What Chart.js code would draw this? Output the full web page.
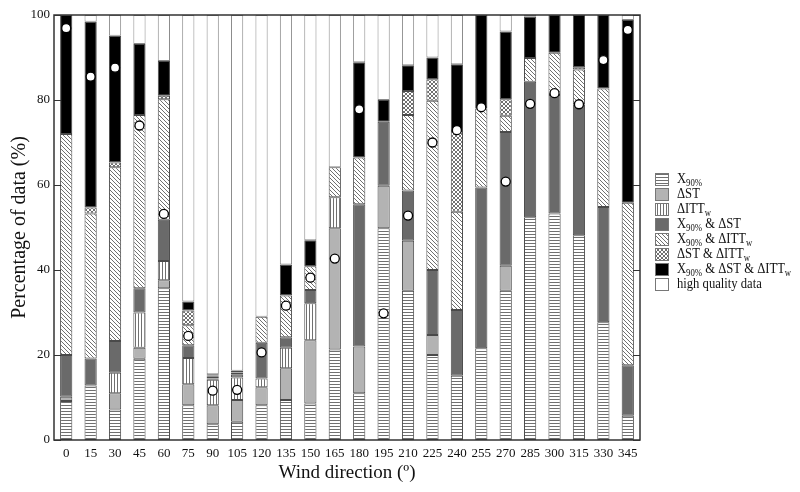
<!DOCTYPE html>
<html>
<head>
<meta charset="utf-8">
<title>Data quality by wind direction</title>
<script src="https://cdn.jsdelivr.net/npm/chart.js@4/dist/chart.umd.min.js"></script>
<style>
  html, body { margin: 0; padding: 0; background: #fff; }
</style>
</head>
<body>
<canvas id="chart" width="800" height="492"></canvas>
<script>
'use strict';

// ===== DATA =====
const directions = ['0', '15', '30', '45', '60', '75', '90', '105', '120', '135', '150', '165',
                    '180', '195', '210', '225', '240', '255', '270', '285', '300', '315', '330', '345'];

const x90       = [9.2, 12.8, 7.2, 19.1, 35.7, 8.2, 3.7, 4.3, 8.2, 9.4, 8.6, 21.3, 11.0, 49.8, 35.1, 20.0, 15.1, 21.6, 35.1, 52.4, 53.3, 48.2, 27.7, 5.7];
const dST       = [1.0, 0, 3.8, 2.6, 1.9, 4.9, 4.5, 5.1, 4.2, 7.5, 14.9, 28.5, 11.0, 10.0, 11.8, 4.7, 0, 0, 5.9, 0, 0, 0, 0, 0];
const dITT      = [0, 0, 4.8, 8.3, 4.5, 6.2, 6.0, 5.3, 2.1, 4.8, 8.7, 7.3, 0, 0, 0, 0, 0, 0, 0, 0, 0, 0, 0, 0];
const x90dST    = [9.8, 6.4, 7.5, 5.7, 9.7, 3.0, 0.3, 0.8, 8.4, 2.5, 3.1, 0, 33.5, 15.1, 11.8, 15.3, 15.5, 37.8, 31.5, 31.9, 27.9, 30.8, 27.1, 11.9];
const x90dITT   = [52.0, 34.1, 40.9, 40.8, 28.4, 4.7, 0.4, 0.4, 6.1, 9.8, 5.6, 7.1, 11.0, 0, 17.8, 39.8, 23.1, 18.6, 3.8, 5.6, 9.9, 8.2, 27.9, 38.2];
const dSTdITT   = [0, 1.4, 1.1, 0, 0.8, 3.5, 0.3, 0.4, 0, 0, 0, 0, 0, 0, 5.6, 5.1, 19.0, 0, 3.9, 0, 0, 0.5, 0, 0];
const allThree  = [28.0, 43.7, 29.8, 16.7, 8.2, 2.1, 0.3, 0, 0, 7.3, 6.1, 0, 22.4, 5.1, 6.1, 5.1, 15.7, 22.0, 15.9, 9.7, 8.9, 12.3, 17.3, 43.0];
const highQuality = [0, 1.6, 4.9, 6.8, 10.8, 67.4, 84.5, 83.7, 71.0, 58.7, 53.0, 35.8, 11.1, 20.0, 11.8, 10.0, 11.6, 0, 3.9, 0.4, 0, 0, 0, 1.2];
const dotValues = [96.9, 85.5, 87.6, 74.0, 53.2, 24.5, 11.6, 11.8, 20.6, 31.6, 38.2, 42.7, 77.8, 29.8, 52.8, 70.0, 72.9, 78.3, 60.8, 79.1, 81.6, 79.0, 89.4, 96.5];

const yTicks = [0, 20, 40, 60, 80, 100];

// legend text pieces: [text, isSubscript]
const legendLabels = [
  [['X', 0], ['90%', 1]],
  [['ΔST', 0]],
  [['ΔITT', 0], ['w', 1]],
  [['X', 0], ['90%', 1], [' & ΔST', 0]],
  [['X', 0], ['90%', 1], [' & ΔITT', 0], ['w', 1]],
  [['ΔST & ΔITT', 0], ['w', 1]],
  [['X', 0], ['90%', 1], [' & ΔST & ΔITT', 0], ['w', 1]],
  [['high quality data', 0]]
];

const SERIF = "'Liberation Serif', 'Times New Roman', serif";
const canvas = document.getElementById('chart');
const ctx = canvas.getContext('2d');

// ===== FILL PATTERNS =====
function makePattern(kind) {
  const s = (kind === 'diag' || kind === 'cross') ? 4 : 3;
  const tile = document.createElement('canvas');
  tile.width = s;
  tile.height = s;
  const g = tile.getContext('2d');
  g.fillStyle = '#fff';
  g.fillRect(0, 0, s, s);
  g.strokeStyle = '#707070';
  g.lineWidth = 1;
  g.beginPath();
  if (kind === 'horiz') {
    g.moveTo(0, 0.5); g.lineTo(s, 0.5);
  } else if (kind === 'vert') {
    g.moveTo(0.5, 0); g.lineTo(0.5, s);
  } else {
    [-s, 0, s].forEach(k => { g.moveTo(0, k); g.lineTo(s, s + k); });
    if (kind === 'cross') {
      [0, s, 2 * s].forEach(k => { g.moveTo(0, k); g.lineTo(s, k - s); });
    }
  }
  g.stroke();
  return ctx.createPattern(tile, 'repeat');
}

const fills = [
  makePattern('horiz'),
  '#b3b3b3',
  makePattern('vert'),
  '#6a6a6a',
  makePattern('diag'),
  makePattern('cross'),
  '#000000',
  '#ffffff'
];

const seriesValues = [x90, dST, dITT, x90dST, x90dITT, dSTdITT, allThree, highQuality];

const barSets = seriesValues.map((vals, i) => ({
  type: 'bar',
  data: vals,
  backgroundColor: fills[i],
  borderColor: i === 7 ? '#8a8a8a' : '#4a4a4a',
  borderWidth: 1,
  borderSkipped: false,
  barPercentage: 0.5,
  categoryPercentage: 1
}));

// ===== PLUGINS =====
const framePlugin = {
  id: 'frame',
  afterDatasetsDraw(chart) {
    const { ctx: c, chartArea: a, scales: { y } } = chart;
    c.save();
    c.strokeStyle = '#333';
    c.lineWidth = 1.5;
    c.strokeRect(a.left, a.top, a.right - a.left, a.bottom - a.top);
    c.beginPath();
    yTicks.forEach(v => {
      const py = Math.round(y.getPixelForValue(v)) + 0.5;
      c.moveTo(a.left, py); c.lineTo(a.left + 7, py);
      c.moveTo(a.right, py); c.lineTo(a.right - 7, py);
    });
    c.lineWidth = 1;
    c.stroke();
    c.restore();
  }
};

const legendPlugin = {
  id: 'sideLegend',
  afterDraw(chart) {
    const c = chart.ctx;
    const boxX = 655, textX = 677, firstY = 179.5, step = 15;
    const squeeze = 0.87;   // the original type is a little narrower than Liberation Serif
    c.save();
    c.textBaseline = 'middle';
    legendLabels.forEach((parts, i) => {
      const cy = firstY + i * step;
      c.fillStyle = fills[i];
      c.fillRect(boxX, cy - 6.5, 14, 13);
      c.strokeStyle = '#777';
      c.lineWidth = 1;
      c.strokeRect(boxX + 0.5, cy - 6, 13, 12);

      c.save();
      c.translate(textX, 0);
      c.scale(squeeze, 1);
      let x = 0;
      c.fillStyle = '#111';
      parts.forEach(([txt, sub]) => {
        c.font = sub ? `10px ${SERIF}` : `14.5px ${SERIF}`;
        c.fillText(txt, x, sub ? cy + 4 : cy);
        x += c.measureText(txt).width;
      });
      c.restore();
    });
    c.restore();
  }
};

// ===== CHART =====
new Chart(ctx, {
  data: {
    labels: directions,
    datasets: [
      {
        type: 'line',
        data: dotValues,
        stack: 'dots',
        showLine: false,
        pointRadius: 4.5,
        pointBackgroundColor: '#fff',
        pointBorderColor: '#000',
        pointBorderWidth: 1.3
      },
      ...barSets
    ]
  },
  options: {
    responsive: false,
    animation: false,
    layout: { padding: { top: 15, right: 160, left: 0, bottom: 0 } },
    plugins: {
      legend: { display: false },
      tooltip: { enabled: false }
    },
    scales: {
      x: {
        stacked: true,
        grid: { display: false, drawTicks: false },
        border: { display: false },
        ticks: { color: '#111', font: { family: SERIF, size: 13 }, padding: 6, maxRotation: 0, autoSkip: false },
        title: { display: true, text: 'Wind direction (º)', color: '#111', font: { family: SERIF, size: 19 }, padding: { top: 0, bottom: 8 } },
        afterFit(scale) { scale.height = 52; }
      },
      y: {
        stacked: true,
        min: 0,
        max: 100,
        grid: { display: false, drawTicks: false },
        border: { display: false },
        ticks: { stepSize: 20, color: '#111', font: { family: SERIF, size: 13 }, padding: 4 },
        title: { display: true, text: 'Percentage of data (%)', color: '#111', font: { family: SERIF, size: 20 }, padding: { top: 8, bottom: 0 } },
        afterFit(scale) { scale.width = 54; }
      }
    }
  },
  plugins: [framePlugin, legendPlugin]
});
</script>
</body>
</html>
